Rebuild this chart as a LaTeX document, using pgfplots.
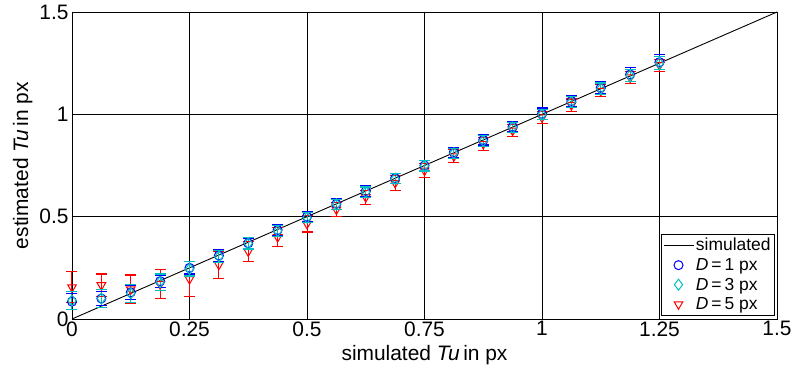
\documentclass[border=0pt]{standalone}
\usepackage{pgfplots}
\usepackage{pgfplotstable}
\pgfplotsset{compat=1.18}
\usepackage{fontspec}
\setmainfont{Liberation Sans}
\definecolor{mblue}{rgb}{0,0,1}
\definecolor{mcyan}{rgb}{0,0.75,0.75}
\definecolor{mred}{rgb}{1,0,0}
\pgfplotsset{
  legmark/.style={legend image code/.code={\draw[mark repeat=2,mark phase=2,##1] plot coordinates {(0cm,0cm)(0.52cm,0cm)(1.05cm,0cm)};}},
  legline/.style={legend image code/.code={\draw[##1] (0cm,0cm) -- (1.05cm,0cm);}},
  errs/.style={error bars/.cd, y dir=both, y explicit, error mark=none,
    error bar style={draw=#1, line width=1bp}},
  errcap/.style={forget plot, only marks, mark=-, mark size=5.5bp, draw=#1, color=#1,
    mark options={draw=#1, line width=1.1bp}},
}
\pgfplotstableread{
x y e
0 0.085 0.040
0.0625 0.100 0.035
0.125 0.130 0.035
0.1875 0.185 0.030
0.25 0.250 0.030
0.3125 0.310 0.030
0.375 0.370 0.025
0.4375 0.435 0.025
0.5 0.500 0.025
0.5625 0.562 0.025
0.625 0.625 0.025
0.6875 0.688 0.025
0.75 0.750 0.025
0.8125 0.815 0.025
0.875 0.875 0.025
0.9375 0.940 0.025
1 1.003 0.028
1.0625 1.065 0.028
1.125 1.130 0.030
1.1875 1.195 0.033
1.25 1.255 0.038
}\dataA
\pgfplotstableread{
x y e
0 0.090 0.045
0.0625 0.100 0.045
0.125 0.125 0.045
0.1875 0.180 0.040
0.25 0.245 0.035
0.3125 0.305 0.030
0.375 0.370 0.028
0.4375 0.430 0.025
0.5 0.495 0.025
0.5625 0.560 0.025
0.625 0.620 0.025
0.6875 0.685 0.025
0.75 0.748 0.025
0.8125 0.810 0.025
0.875 0.870 0.025
0.9375 0.935 0.025
1 0.998 0.025
1.0625 1.060 0.025
1.125 1.125 0.028
1.1875 1.190 0.030
1.25 1.250 0.033
}\dataB
\pgfplotstableread{
x y e
0 0.155 0.075
0.0625 0.165 0.055
0.125 0.145 0.070
0.1875 0.170 0.070
0.25 0.195 0.085
0.3125 0.265 0.065
0.375 0.330 0.050
0.4375 0.400 0.045
0.5 0.465 0.040
0.5625 0.535 0.035
0.625 0.595 0.035
0.6875 0.665 0.035
0.75 0.725 0.035
0.8125 0.795 0.032
0.875 0.855 0.030
0.9375 0.920 0.030
1 0.985 0.030
1.0625 1.045 0.030
1.125 1.115 0.030
1.1875 1.180 0.030
1.25 1.240 0.030
}\dataC
\begin{document}
\begin{tikzpicture}
\begin{axis}[
  name=ax,
  scale only axis,
  width=705bp, height=307bp,
  xmin=0, xmax=1.5, ymin=0, ymax=1.5,
  xtick={0,0.25,0.5,0.75,1,1.25,1.5},
  xticklabels={0,0.25,0.5,0.75,1,1.25,1.5},
  ytick={0,0.5,1,1.5},
  yticklabels={0,0.5,1,1.5},
  tick align=inside,
  major tick length=4bp,
  grid=major,
  major grid style={black, line width=0.6bp},
  axis line style={black, line width=0.8bp},
  every tick/.style={black},
  tick label style={font=\fontsize{21}{24}\selectfont},
  xticklabel style={yshift=1bp},
  xlabel={simulated \textit{Tu}\,in px},
  ylabel={estimated \textit{Tu}\,in px},
  label style={font=\fontsize{21}{24}\selectfont},
  xlabel style={yshift=-2bp},
  ylabel style={yshift=0bp},
  clip=false,
  legend style={font=\fontsize{17.5}{20}\selectfont, draw=black, line width=0.6bp,
    inner xsep=2bp, inner ysep=2bp, row sep=2bp, at={(0.997,0.012)}, anchor=south east},
  legend cell align=left,
  every axis plot/.append style={line width=1bp},
]
\addplot[black, no marks, line width=0.9bp, legline] coordinates {(0,0) (1.5,1.5)};
\addlegendentry{simulated}
\addlegendimage{only marks, mark=o, mark size=4.5bp, color=mblue, legmark}
\addlegendentry{\textit{D}\,=\,1 px}
\addlegendimage{only marks, mark=diamond, mark size=5.5bp, color=mcyan, legmark}
\addlegendentry{\textit{D}\,=\,3 px}
\addlegendimage{only marks, mark=triangle, mark size=5bp, color=mred, mark options={rotate=180}, legmark}
\addlegendentry{\textit{D}\,=\,5 px}
% D = 5 px
\addplot[errcap=mred] table[x=x, y expr=\thisrow{y}+\thisrow{e}] {\dataC};
\addplot[errcap=mred] table[x=x, y expr=\thisrow{y}-\thisrow{e}] {\dataC};
\addplot[forget plot, only marks, color=mred, mark=triangle, mark size=5bp, mark options={rotate=180}, errs=mred]
  table[x=x, y=y, y error=e] {\dataC};
% D = 1 px
\addplot[errcap=mblue] table[x=x, y expr=\thisrow{y}+\thisrow{e}] {\dataA};
\addplot[errcap=mblue] table[x=x, y expr=\thisrow{y}-\thisrow{e}] {\dataA};
\addplot[forget plot, only marks, color=mblue, mark=o, mark size=4.5bp, errs=mblue]
  table[x=x, y=y, y error=e] {\dataA};
% D = 3 px
\addplot[errcap=mcyan] table[x=x, y expr=\thisrow{y}+\thisrow{e}] {\dataB};
\addplot[errcap=mcyan] table[x=x, y expr=\thisrow{y}-\thisrow{e}] {\dataB};
\addplot[forget plot, only marks, color=mcyan, mark=diamond, mark size=5.5bp, errs=mcyan]
  table[x=x, y=y, y error=e] {\dataB};
\end{axis}
\pgfresetboundingbox
\path ([shift={(-72bp,-57bp)}]ax.south west) rectangle ([shift={(18bp,12bp)}]ax.north east);
\end{tikzpicture}
\end{document}
